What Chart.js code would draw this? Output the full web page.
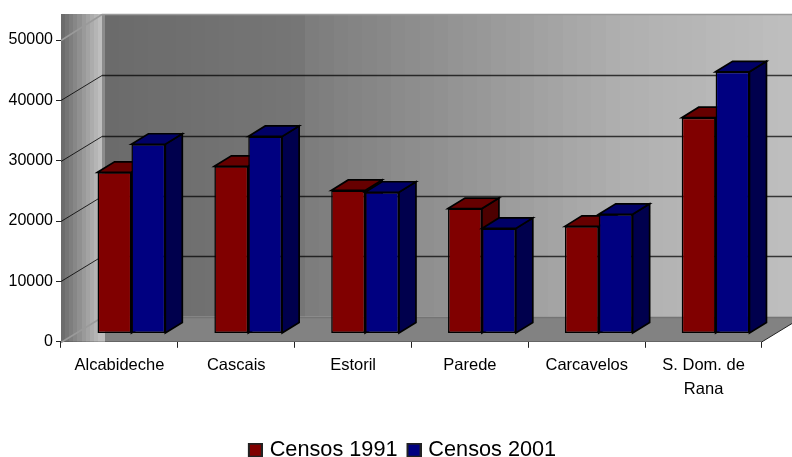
<!DOCTYPE html>
<html>
<head>
<meta charset="utf-8">
<style>html,body{margin:0;padding:0;background:#fff;overflow:hidden}canvas{display:block}</style>
<script src="https://cdn.jsdelivr.net/npm/chart.js@4/dist/chart.umd.min.js"></script>
</head>
<body>
<canvas id="c" width="792" height="457"></canvas>
<script>
// Resident population by parish, Cascais municipality
const categories = ["Alcabideche", "Cascais", "Estoril", "Parede", "Carcavelos", ["S. Dom. de", "Rana"]];
const censos1991 = [26700, 27700, 23700, 20700, 17750, 35750];
const censos2001 = [31350, 32650, 23400, 17400, 19750, 43350];
const seriesNames = ["Censos 1991", "Censos 2001"];
const frontColors = ["#800000", "#000080"];
const topColors = ["#660000", "#000066"];
const sideColors = ["#4d0000", "#00004d"];

// Depth of the room (back wall vs. front axis) and of each column
const wall = {dx: 41, dy: 25};
const rowShift = {dx: 12, dy: 8.3};
const col = {dx: 17, dy: 10.5};

function bandedGradient(ctx, x0, x1, stops, bands) {
  const g = ctx.createLinearGradient(x0, 0, x1, 0);
  for (let i = 0; i < bands; i++) {
    const t = i / (bands - 1);
    const pos = t * (stops.length - 1);
    const k = Math.min(Math.floor(pos), stops.length - 2);
    const v = Math.round(stops[k] + (stops[k + 1] - stops[k]) * (pos - k));
    const c = `rgb(${v},${v},${v})`;
    g.addColorStop(i / bands, c);
    g.addColorStop((i + 1) / bands, c);
  }
  return g;
}

function drawRoom(chart) {
  const {ctx, chartArea: a, scales: {y}} = chart;
  const backTop = a.top - wall.dy - 1, backBottom = a.bottom - wall.dy;
  const backLeft = a.left + wall.dx + 3;
  const backRight = a.right + wall.dx;
  ctx.save();

  // Back wall, a darker panel on the left and a lighter one after it
  ctx.fillStyle = bandedGradient(ctx, backLeft, 305, [107, 118], 14);
  ctx.fillRect(backLeft, backTop, 305 - backLeft, backBottom - backTop);
  ctx.fillStyle = bandedGradient(ctx, 305, 792, [125, 150, 176, 190], 34);
  ctx.fillRect(305, backTop, 792 - 305, backBottom - backTop);

  // Side wall
  ctx.fillStyle = bandedGradient(ctx, a.left, backLeft - 3, [108, 190], 10);
  ctx.fillRect(a.left, backTop, wall.dx, a.bottom - backTop);
  ctx.fillStyle = '#8c8c8c';
  ctx.fillRect(a.left + wall.dx, backTop, 3, backBottom - backTop);
  ctx.fillStyle = '#bdbdbd';
  ctx.fillRect(a.left + wall.dx, backBottom, 3, a.bottom - backBottom);

  // Floor
  ctx.fillStyle = '#828282';
  ctx.beginPath();
  ctx.moveTo(backLeft, backBottom);
  ctx.lineTo(backRight, backBottom);
  ctx.lineTo(a.right, a.bottom);
  ctx.lineTo(backLeft, a.bottom);
  ctx.closePath();
  ctx.fill();
  ctx.strokeStyle = '#222';
  ctx.lineWidth = 1;
  ctx.beginPath();
  ctx.moveTo(a.right, a.bottom);
  ctx.lineTo(backRight, backBottom);
  ctx.stroke();

  // Gridlines wrap from the axis over the side wall onto the back wall
  y.ticks.forEach(t => {
    const py = Math.round(y.getPixelForValue(t.value)) + 0.5;
    const edge = t.value === 0 || t.value === y.max;
    const backY = t.value === y.max ? backTop + 0.5 : py - wall.dy;
    ctx.strokeStyle = edge ? '#9a9a9a' : 'rgba(0,0,0,0.8)';
    ctx.lineWidth = edge ? 1.5 : 1;
    ctx.beginPath();
    ctx.moveTo(a.left, py);
    ctx.lineTo(a.left + wall.dx, backY);
    ctx.stroke();
    ctx.strokeStyle = edge ? '#9a9a9a' : 'rgba(0,0,0,0.72)';
    ctx.lineWidth = 1.5;
    if (t.value === 0) ctx.strokeStyle = '#747474';
    ctx.beginPath();
    ctx.moveTo(a.left + wall.dx, backY);
    ctx.lineTo(792, backY);
    ctx.stroke();
  });
  ctx.restore();
}

function drawColumnFaces(ctx, meta, i) {
  ctx.lineWidth = 1.7;
  ctx.lineJoin = 'miter';
  ctx.strokeStyle = '#000';
  meta.data.forEach(bar => {
    const l = bar.x - bar.width / 2, r = bar.x + bar.width / 2;
    ctx.fillStyle = sideColors[i];
    ctx.beginPath();
    ctx.moveTo(r, bar.y);
    ctx.lineTo(r + col.dx, bar.y - col.dy);
    ctx.lineTo(r + col.dx, bar.base - col.dy);
    ctx.lineTo(r, bar.base);
    ctx.closePath();
    ctx.fill();
    ctx.stroke();
    ctx.fillStyle = topColors[i];
    ctx.beginPath();
    ctx.moveTo(l, bar.y);
    ctx.lineTo(l + col.dx, bar.y - col.dy);
    ctx.lineTo(r + col.dx, bar.y - col.dy);
    ctx.lineTo(r, bar.y);
    ctx.closePath();
    ctx.fill();
    ctx.stroke();
  });
}

const roomPlugin = {
  id: 'room',
  afterLayout(chart) {
    // Legend row sits against the lower edge of the page
    const lg = chart.legend;
    lg.left += 21; lg.right += 21;
    lg.top += 14; lg.bottom += 14;
  },
  beforeDatasetsDraw(chart) {
    const ctx = chart.ctx;
    drawRoom(chart);
    // The first series is painted first so the second one overlaps it;
    // columns stand a little behind the front axis
    ctx.save();
    ctx.translate(rowShift.dx, -rowShift.dy);
    chart.data.datasets.forEach((ds, i) => {
      const meta = chart.getDatasetMeta(i);
      meta.controller.draw();
      drawColumnFaces(ctx, meta, i);
    });
    ctx.restore();
  },
  beforeDatasetDraw() {
    return false;
  }
};

function legendMarker(color) {
  // Left margin keeps the swatch clear of the legend's label offset
  const m = document.createElement('canvas');
  m.width = 19; m.height = 15;
  const g = m.getContext('2d');
  g.fillStyle = color;
  g.fillRect(4, 0, 15, 15);
  g.strokeStyle = '#222';
  g.lineWidth = 2;
  g.strokeRect(5, 1, 13, 13);
  return m;
}
const markers = frontColors.map(legendMarker);

new Chart(document.getElementById('c'), {
  type: 'bar',
  data: {
    labels: categories,
    datasets: [
      {label: seriesNames[0], data: censos1991, backgroundColor: frontColors[0]},
      {label: seriesNames[1], data: censos2001, backgroundColor: frontColors[1]}
    ]
  },
  options: {
    responsive: false,
    animation: false,
    devicePixelRatio: 1,
    layout: {padding: {top: 40, right: 30, left: 0, bottom: 0}},
    datasets: {bar: {
      barPercentage: 1,
      categoryPercentage: 0.58,
      borderColor: '#000',
      borderWidth: 1.5,
      borderSkipped: false
    }},
    plugins: {
      tooltip: {enabled: false},
      legend: {
        position: 'bottom',
        onClick: null,
        labels: {
          color: '#000',
          font: {family: '"Liberation Sans", Arial, sans-serif', size: 21.7},
          usePointStyle: true,
          boxWidth: 11,
          padding: 9,
          generateLabels(chart) {
            return Chart.defaults.plugins.legend.labels.generateLabels(chart)
              .map((item, i) => Object.assign(item, {pointStyle: markers[i]}));
          }
        }
      }
    },
    scales: {
      x: {
        afterFit(s) { s.height = 74.5; },
        grid: {drawOnChartArea: false, tickLength: 6, tickColor: '#222', offset: true},
        border: {color: '#111', width: 1},
        ticks: {
          color: '#000',
          autoSkip: false,
          maxRotation: 0,
          padding: 6,
          font: {family: '"Liberation Sans", Arial, sans-serif', size: 16.5, lineHeight: 1.45}
        }
      },
      y: {
        min: 0,
        max: 50000,
        afterFit(s) { s.width = 61; },
        grid: {drawOnChartArea: false, tickLength: 5, tickColor: '#222'},
        border: {color: '#111', width: 1},
        ticks: {
          stepSize: 10000,
          color: '#000',
          padding: 3,
          font: {family: '"Liberation Sans", Arial, sans-serif', size: 16},
          callback: v => String(v)
        }
      }
    }
  },
  plugins: [roomPlugin]
});
</script>
</body>
</html>
